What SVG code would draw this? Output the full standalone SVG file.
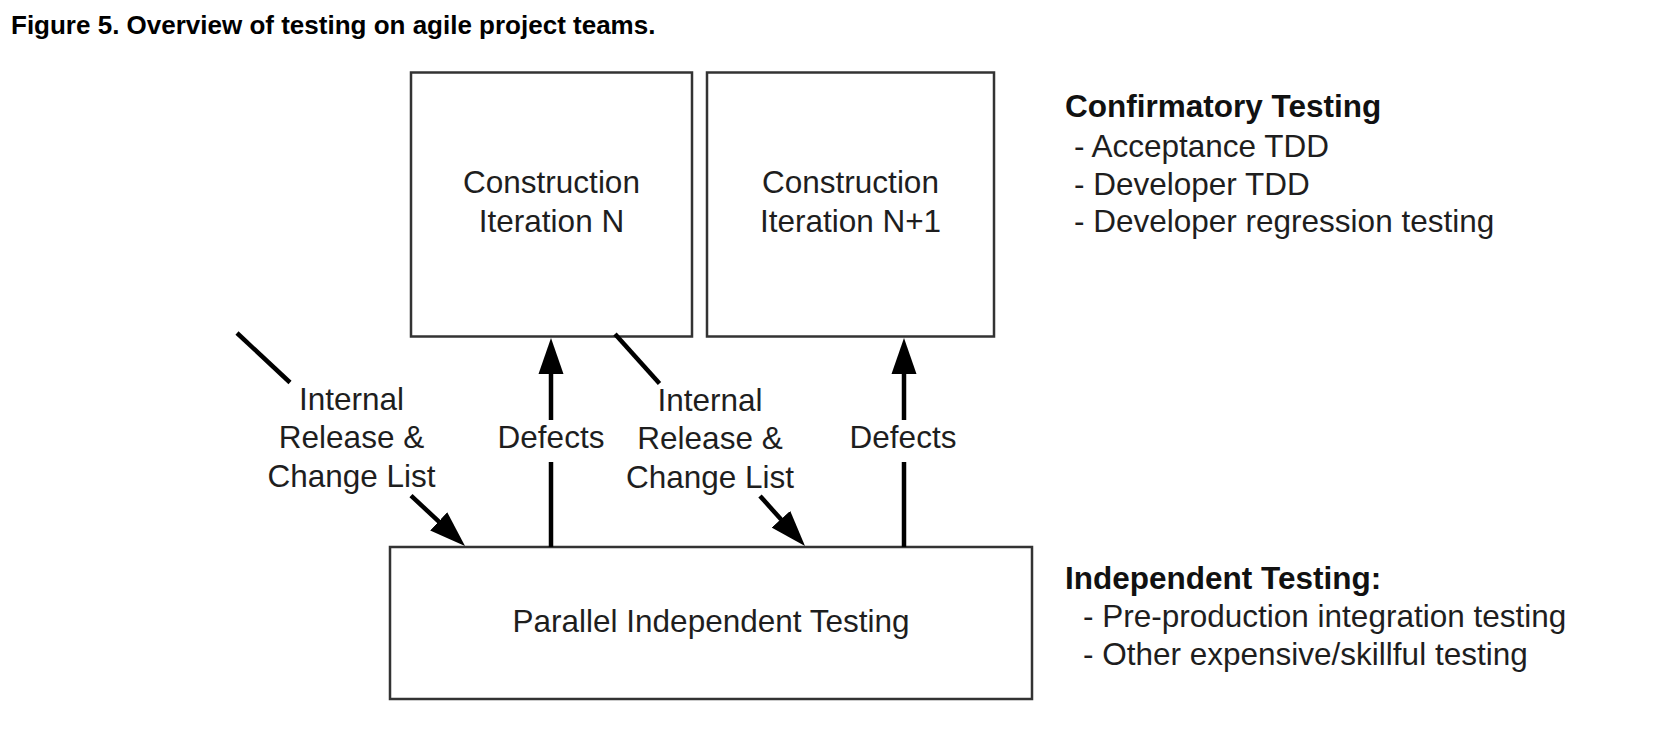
<svg xmlns="http://www.w3.org/2000/svg" width="1680" height="730" viewBox="0 0 1680 730">
  <style>
    .box { fill: #ffffff; stroke: #333333; stroke-width: 2.5; }
    .t { font-family: "Liberation Sans", Arial, sans-serif; font-size: 31.5px; fill: #1e1e1e; }
    .c { text-anchor: middle; }
    .h { font-family: "Liberation Sans", Arial, sans-serif; font-size: 31.5px; font-weight: bold; fill: #111111; }
    .title { font-family: "Liberation Sans", Arial, sans-serif; font-size: 26px; font-weight: bold; fill: #000000; }
    .conn { stroke: #000000; stroke-width: 4.5; fill: none; }
  </style>
  <defs>
    <marker id="arrow" markerUnits="userSpaceOnUse" markerWidth="36" markerHeight="26" refX="26" refY="13" orient="auto">
      <path d="M0,0.5 L36,13 L0,25.5 z" fill="#000000"/>
    </marker>
  </defs>
  <rect width="1680" height="730" fill="#ffffff"/>

  <text class="title" x="11" y="34">Figure 5. Overview of testing on agile project teams.</text>

  <g id="node-iter-n">
    <rect class="box" x="411" y="72.5" width="281" height="264"/>
    <text class="t c" x="551.5" y="193">Construction</text>
    <text class="t c" x="551.5" y="232">Iteration N</text>
  </g>

  <g id="node-iter-n1">
    <rect class="box" x="707" y="72.5" width="287" height="264"/>
    <text class="t c" x="850.5" y="193">Construction</text>
    <text class="t c" x="850.5" y="232">Iteration N+1</text>
  </g>

  <g id="node-parallel">
    <rect class="box" x="390" y="547" width="642" height="152"/>
    <text class="t c" x="711" y="632">Parallel Independent Testing</text>
  </g>

  <g id="connectors">
    <!-- left internal release -->
    <line class="conn" x1="237" y1="333" x2="290" y2="382.5"/>
    <line class="conn" x1="411" y1="495.6" x2="457.7" y2="539.2" marker-end="url(#arrow)"/>
    <!-- defects N -->
    <line class="conn" x1="551" y1="547" x2="551" y2="462"/>
    <line class="conn" x1="551" y1="420" x2="551" y2="348" marker-end="url(#arrow)"/>
    <!-- right internal release -->
    <line class="conn" x1="615" y1="334" x2="659.5" y2="383.6"/>
    <line class="conn" x1="760" y1="496" x2="798.3" y2="538.6" marker-end="url(#arrow)"/>
    <!-- defects N+1 -->
    <line class="conn" x1="904" y1="547" x2="904" y2="462"/>
    <line class="conn" x1="904" y1="420" x2="904" y2="348" marker-end="url(#arrow)"/>
  </g>

  <g id="labels">
    <text class="t c" x="351.5" y="410">Internal</text>
    <text class="t c" x="351.5" y="448">Release &amp;</text>
    <text class="t c" x="351.5" y="487">Change List</text>
    <text class="t c" x="551" y="448">Defects</text>
    <text class="t c" x="710" y="411">Internal</text>
    <text class="t c" x="710" y="449">Release &amp;</text>
    <text class="t c" x="710" y="488">Change List</text>
    <text class="t c" x="903" y="448">Defects</text>
  </g>

  <g id="confirmatory">
    <text class="h" x="1065" y="117">Confirmatory Testing</text>
    <text class="t" x="1074" y="157">- Acceptance TDD</text>
    <text class="t" x="1074" y="194.5">- Developer TDD</text>
    <text class="t" x="1074" y="232">- Developer regression testing</text>
  </g>

  <g id="independent">
    <text class="h" x="1065" y="589">Independent Testing:</text>
    <text class="t" x="1083" y="627">- Pre-production integration testing</text>
    <text class="t" x="1083" y="665">- Other expensive/skillful testing</text>
  </g>
</svg>
